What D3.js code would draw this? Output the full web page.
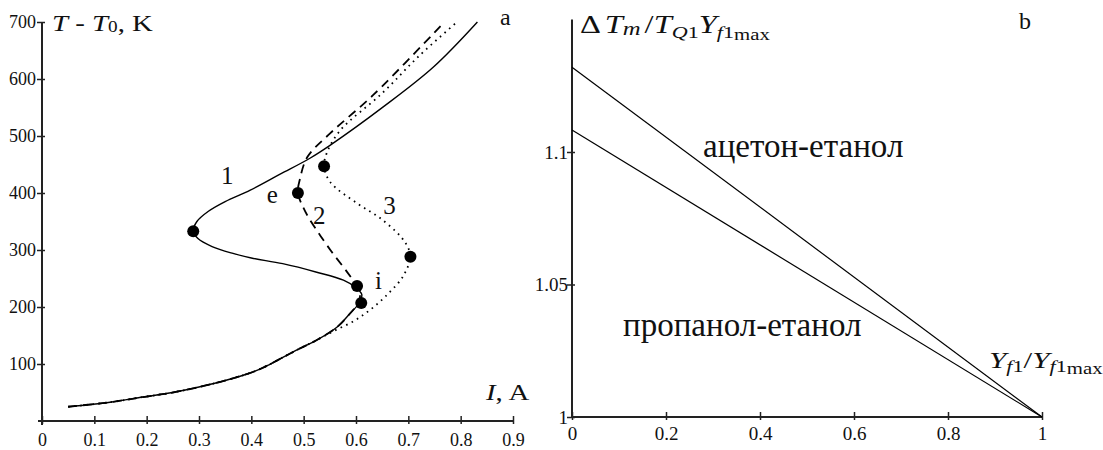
<!DOCTYPE html>
<html>
<head>
<meta charset="utf-8">
<script src="https://cdn.jsdelivr.net/npm/d3@7"></script>
<style>
  body { margin: 0; background: #fff; }
  svg text { font-family: "Liberation Serif", "Times New Roman", Tinos, "DejaVu Serif", serif !important; fill: #111; }
</style>
</head>
<body>
<svg id="chart" width="1103" height="450"></svg>
<script>
// ---- panel a : S-curves T - T0 vs I ----
// common lower (cold) branch, [I, T-T0]
var lowerBranch = [[0.05,25],[0.13,33],[0.193,42],[0.25,50],[0.302,60],[0.35,71],[0.403,86],[0.43,97],[0.461,112],[0.49,126],[0.525,142],[0.564,165],[0.589,189]];
var curve1Rest = [[0.606,207],[0.611,222],[0.598,235],[0.576,247],[0.525,261],[0.46,276],[0.4,286],[0.365,294],[0.325,306],[0.298,320],[0.289,333],
                  [0.296,350],[0.318,368],[0.35,385],[0.398,405],[0.455,433],[0.512,461],[0.551,484],[0.652,551],[0.748,621],[0.832,700]];
var curve2Rest = [[0.606,210],[0.607,226],[0.602,237],[0.592,250],[0.576,270],[0.551,300],[0.512,353],[0.499,375],[0.489,400],
                  [0.493,425],[0.507,463],[0.551,505],[0.633,572],[0.767,698]];
var curve3Lower = [[0.05,25],[0.13,33],[0.193,42],[0.25,50],[0.302,60],[0.35,71],[0.403,86],[0.43,97],[0.461,112],[0.49,126],[0.525,142]];
var curve3Rest = [[0.558,158],[0.595,175],[0.627,195],[0.66,222],[0.69,254],[0.704,288],[0.699,305],[0.685,324],[0.646,356],[0.602,382],
                  [0.551,419],[0.539,447],[0.545,472],[0.57,510],[0.65,575],[0.72,640],[0.793,700]];
var turnPoints = [[0.289,333],[0.602,237],[0.61,207],[0.489,400],[0.539,447],[0.704,288]];
var curveLabels = [{t:"1",x:0.354,y:415},{t:"e",x:0.44,y:383},{t:"2",x:0.53,y:345},{t:"3",x:0.664,y:363},{t:"i",x:0.643,y:232}];
var xTicksA = [0,0.1,0.2,0.3,0.4,0.5,0.6,0.7,0.8,0.9];
var yTicksA = [100,200,300,400,500,600,700];

// ---- panel b : relative temperature rise vs Yf1/Yf1max ----
var xB = [0, 1];
var acetoneEthanol = [1.132, 1.0];
var propanolEthanol = [1.1083, 1.0];
var xTicksB = [0,0.2,0.4,0.6,0.8,1];
var yTicksB = [1,1.05,1.1];

var svg = d3.select('#chart');

// panel a scales
var xa = d3.scaleLinear().domain([0,0.9]).range([42,513]);
var ya = d3.scaleLinear().domain([0,700]).range([421,22]);

var axA_x = svg.append('g').attr('transform','translate(0,421)')
  .call(d3.axisBottom(xa).tickValues(xTicksA).tickFormat(d3.format('')).tickSize(6));
var axA_y = svg.append('g').attr('transform','translate(42,0)')
  .call(d3.axisLeft(ya).tickValues(yTicksA).tickSize(6));

// panel b scales
var xb = d3.scaleLinear().domain([0,1]).range([572,1042]);
var yb = d3.scaleLinear().domain([1,1.15]).range([417,19.5]);

var axB_x = svg.append('g').attr('transform','translate(0,417)')
  .call(d3.axisBottom(xb).tickValues(xTicksB).tickFormat(d3.format('')).tickSize(6));
var axB_y = svg.append('g').attr('transform','translate(572,0)')
  .call(d3.axisLeft(yb).tickValues(yTicksB).tickFormat(d3.format('')).tickSize(6));

// style the axes like the old plotting program: crossing ticks, plain serif labels
[axA_x, axA_y, axB_x, axB_y].forEach(g => g.attr('font-family', null));
[axA_x, axB_x].forEach(function(g){
  g.select('.domain').remove();
  g.selectAll('.tick line').attr('y1',-5).attr('y2',3).attr('stroke','#222').attr('stroke-width',1.5);
  g.selectAll('.tick text').attr('y',12).attr('font-size',18);
});
[axA_y, axB_y].forEach(function(g){
  g.select('.domain').remove();
  g.selectAll('.tick line').attr('x1',-5).attr('x2',3).attr('stroke','#222').attr('stroke-width',1.5);
  g.selectAll('.tick text').attr('x',-6).attr('font-size',18);
});
axB_x.selectAll('.tick text').attr('y',10).attr('font-size',19);
axB_y.selectAll('.tick text').attr('x',-4).attr('font-size',19);

// axis lines
svg.append('line').attr('x1',xa(0)-4).attr('x2',xa(0.9)).attr('y1',ya(0)).attr('y2',ya(0)).attr('stroke','#222').attr('stroke-width',2);
svg.append('line').attr('x1',xa(0)).attr('x2',xa(0)).attr('y1',ya(0)+4).attr('y2',ya(700)).attr('stroke','#222').attr('stroke-width',2);
svg.append('line').attr('x1',xb(0)).attr('x2',xb(1)).attr('y1',yb(1)).attr('y2',yb(1)).attr('stroke','#222').attr('stroke-width',2);
svg.append('line').attr('x1',xb(0)).attr('x2',xb(0)).attr('y1',yb(1)).attr('y2',yb(1.15)).attr('stroke','#222').attr('stroke-width',2);

// S-curves
var lineA = d3.line().x(d => xa(d[0])).y(d => ya(d[1])).curve(d3.curveCatmullRom.alpha(0.5));
var curves = [
  {pts: lowerBranch.concat(curve1Rest), dash: null},
  {pts: lowerBranch.concat(curve2Rest), dash: '9,6'},
  {pts: curve3Lower.concat(curve3Rest), dash: '1.6,4.5'}
];
svg.append('g').selectAll('path').data(curves).enter().append('path')
  .attr('d', d => lineA(d.pts))
  .attr('fill','none')
  .attr('stroke','#000')
  .attr('stroke-width', d => d.dash ? 1.8 : 1.4)
  .attr('stroke-dasharray', d => d.dash);

svg.append('g').selectAll('circle').data(turnPoints).enter().append('circle')
  .attr('cx', d => xa(d[0])).attr('cy', d => ya(d[1])).attr('r',6).attr('fill','#000');

svg.append('g').selectAll('text').data(curveLabels).enter().append('text')
  .attr('x', d => xa(d.x)).attr('y', d => ya(d.y))
  .attr('text-anchor','middle').attr('font-size',25)
  .text(d => d.t);

// panel b lines
var lineB = d3.line().x(d => xb(d[0])).y(d => yb(d[1]));
svg.append('g').selectAll('path').data([acetoneEthanol, propanolEthanol]).enter().append('path')
  .attr('d', d => lineB(xB.map((v,i) => [v, d[i]])))
  .attr('fill','none').attr('stroke','#000').attr('stroke-width',1.2);

svg.append('text').attr('x',703).attr('y',157).attr('font-size',33).text('ацетон-етанол');
svg.append('text').attr('x',623).attr('y',336).attr('font-size',33).text('пропанол-етанол');

// titles / axis labels
svg.append('text').attr('x',500).attr('y',25).attr('font-size',24).text('a');
svg.append('text').attr('x',1019).attr('y',29).attr('font-size',24).text('b');

// the source labels are a bit stretched sideways
var ta = svg.append('text').attr('transform','translate(52,31) scale(1.2,1)').attr('font-size',24);
ta.append('tspan').attr('font-style','italic').text('T');
ta.append('tspan').text(' - ');
ta.append('tspan').attr('font-style','italic').text('T');
ta.append('tspan').attr('font-size',16).attr('dy',1).text('0');
ta.append('tspan').attr('dy',-1).text(', K');

var ia = svg.append('text').attr('transform','translate(486,400) scale(1.2,1)').attr('font-size',24);
ia.append('tspan').attr('font-style','italic').text('I');
ia.append('tspan').text(', A');

var tb = svg.append('text').attr('transform','translate(580,33) scale(1.3,1)').attr('font-size',25);
tb.append('tspan').text('Δ');
tb.append('tspan').attr('dx',3).attr('font-style','italic').text('T');
tb.append('tspan').attr('font-style','italic').attr('font-size',19).attr('dy',2).text('m');
tb.append('tspan').attr('dx',3).attr('dy',-2).text('/');
tb.append('tspan').attr('font-style','italic').text('T');
tb.append('tspan').attr('font-style','italic').attr('font-size',17).attr('dy',5).text('Q');
tb.append('tspan').attr('font-size',17).text('1');
tb.append('tspan').attr('font-style','italic').attr('dy',-5).text('Y');
tb.append('tspan').attr('font-style','italic').attr('font-size',17).attr('dy',5).text('f');
tb.append('tspan').attr('font-size',17).text('1');
tb.append('tspan').attr('font-size',16).attr('dy',2).text('max');

var yl = svg.append('text').attr('transform','translate(989,368) scale(1.3,1)').attr('font-size',24);
yl.append('tspan').attr('font-style','italic').text('Y');
yl.append('tspan').attr('font-style','italic').attr('font-size',17).attr('dy',4).text('f');
yl.append('tspan').attr('font-size',17).text('1');
yl.append('tspan').attr('dy',-4).text('/');
yl.append('tspan').attr('font-style','italic').text('Y');
yl.append('tspan').attr('font-style','italic').attr('font-size',17).attr('dy',4).text('f');
yl.append('tspan').attr('font-size',17).text('1');
yl.append('tspan').attr('font-size',16).attr('dy',2).text('max');
</script>
</body>
</html>
